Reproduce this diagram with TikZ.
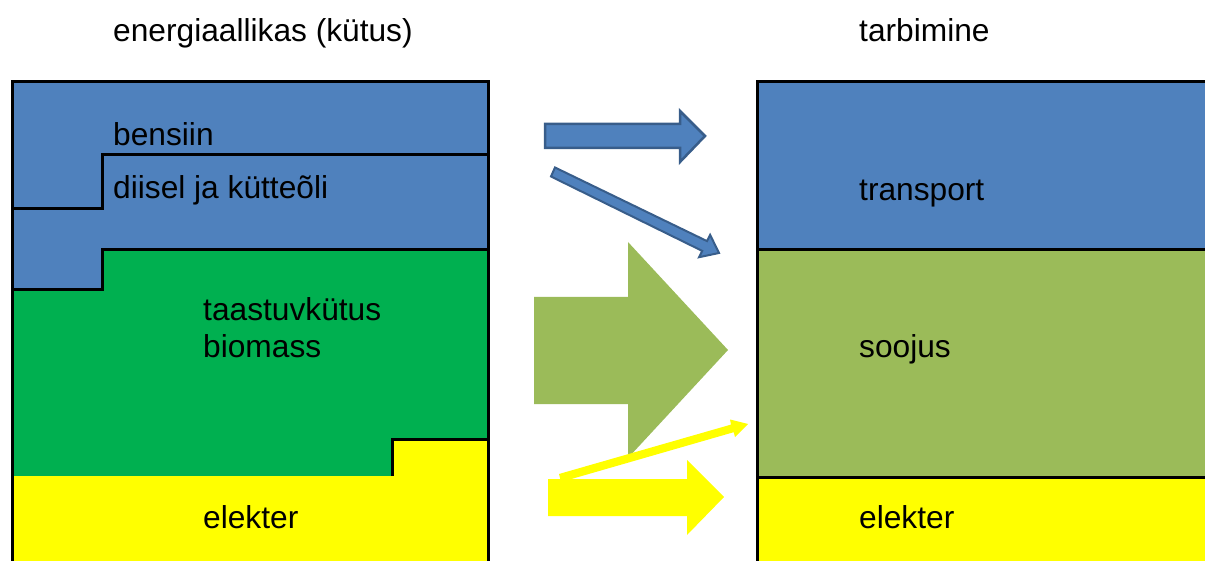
\documentclass[tikz,border=0pt]{standalone}
\usepackage{fontspec}
\setmainfont{Liberation Sans}
\definecolor{srcblue}{HTML}{4F81BD}
\definecolor{srcgreen}{HTML}{00B050}
\definecolor{useolive}{HTML}{9BBB59}
\definecolor{arrowedge}{HTML}{385D8A}
\definecolor{yel}{HTML}{FFFF00}
\begin{document}
\begin{tikzpicture}[x=1pt,y=-1pt,
  lbl/.style={anchor=base west, inner sep=0pt, font=\fontsize{31.7}{37}\selectfont},
  edge/.style={line width=3pt, black},
  bluearrow/.style={fill=srcblue, draw=arrowedge, line width=2.5pt, line join=miter},
  greenarrow/.style={fill=useolive},
  yelarrow/.style={fill=yel}]
\useasboundingbox (0,0) rectangle (1205,561);

% left block (sources)
\fill[srcblue] (12,82) -- (488,82) -- (488,250) -- (102,250) -- (102,290) -- (12,290) -- cycle;
\fill[srcgreen] (12,290) -- (102,290) -- (102,250) -- (488,250) -- (488,439) -- (392,439) -- (392,476) -- (12,476) -- cycle;
\fill[yel] (12,476) -- (392,476) -- (392,439) -- (488,439) -- (488,561) -- (12,561) -- cycle;
\draw[edge] (12,561) -- (12,82) -- (488,82) -- (488,561);
\draw[edge] (488,155) -- (102,155) -- (102,209) -- (12,209);
\draw[edge] (488,250) -- (102,250) -- (102,290) -- (12,290);
\draw[edge] (488,439) -- (392,439) -- (392,476);

% right block (consumption)
\fill[srcblue] (757,82) rectangle (1205,250);
\fill[useolive] (757,250) rectangle (1205,477);
\fill[yel] (757,477) rectangle (1205,561);
\draw[edge] (757,561) -- (757,82) -- (1205,82);
\draw[edge] (757,250) -- (1205,250);
\draw[edge] (757,477) -- (1205,477);

% arrows
\draw[bluearrow] (545,124) -- (680,124) -- (680,111) -- (705,136) -- (680,162) -- (680,148) -- (545,148) -- cycle;
\draw[bluearrow, line width=2pt] (551,176.5) -- (555,167.5) -- (707,241.1) -- (710.1,234.8) -- (719,253) -- (699.1,257.2) -- (702.2,250.9) -- cycle;
\fill[greenarrow] (534,297) -- (628,297) -- (628,242) -- (728,350) -- (628,458) -- (628,404) -- (534,404) -- cycle;
\fill[yelarrow] (548,479) -- (687,479) -- (687,460) -- (724,497) -- (687,535) -- (687,516) -- (548,516) -- cycle;
\fill[yelarrow] (561,482) -- (559,474) -- (731,424.6) -- (730,419.5) -- (748,424) -- (735,437) -- (733.7,432.2) -- cycle;

% labels
\node[lbl] (src) at (113,42) {energiaallikas (kütus)};
\node[lbl] (use) at (859,42) {tarbimine};
\node[lbl] (bensiin) at (113,146) {bensiin};
\node[lbl] (diisel) at (113,199) {diisel ja kütteõli};
\node[lbl] (taastuv) at (203,320) {taastuvkütus};
\node[lbl] (biomass) at (203,357) {biomass};
\node[lbl] (elekterL) at (203,528) {elekter};
\node[lbl] (transport) at (859,201) {transport};
\node[lbl] (soojus) at (859,357) {soojus};
\node[lbl] (elekterR) at (859,528) {elekter};
\end{tikzpicture}
\end{document}
